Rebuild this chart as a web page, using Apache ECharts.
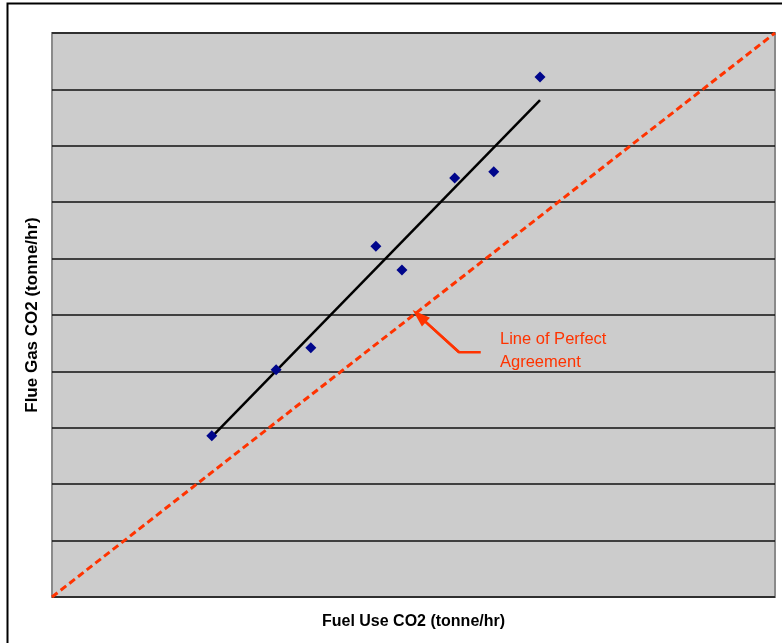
<!DOCTYPE html>
<html>
<head>
<meta charset="utf-8">
<script src="https://cdn.jsdelivr.net/npm/echarts@6/dist/echarts.min.js"></script>
<style>html,body{margin:0;padding:0;background:#fff;}#c{width:782px;height:643px;}</style>
</head>
<body>
<div id="c"></div>
<script>
// Measured points: Fuel Use CO2 vs Flue Gas CO2 (tonne/hr)
const fuelUse = [2.21, 3.10, 3.58, 4.48, 4.84, 5.57, 6.11, 6.75];
const flueGas = [2.86, 4.03, 4.42, 6.22, 5.80, 7.43, 7.54, 9.22];
// Trend line endpoints
const trendX = [2.21, 6.75];
const trendY = [2.84, 8.81];
// Line of perfect agreement
const perfectX = [0, 10];
const perfectY = [0, 10];
// Annotation arrow path (data coords)
const arrowX = [5.93, 5.63, 5.08];
const arrowY = [4.34, 4.34, 4.98];
const annotationText = ['Line of Perfect', 'Agreement'];

const red = '#ff3300';
const chart = echarts.init(document.getElementById('c'));
chart.setOption({
  animation: false,
  backgroundColor: '#ffffff',
  grid: {left: 52, top: 33, width: 723, height: 564, show: true, backgroundColor: '#cccccc', borderColor: '#8a8a8a', borderWidth: 2},
  xAxis: {
    type: 'value', min: 0, max: 10, interval: 1,
    name: 'Fuel Use CO2 (tonne/hr)', nameLocation: 'middle', nameGap: 17,
    nameTextStyle: {fontFamily: 'Liberation Sans', fontWeight: 'bold', fontSize: 16, color: '#000'},
    axisLine: {show: false}, axisTick: {show: false}, axisLabel: {show: false}, splitLine: {show: false}
  },
  yAxis: {
    type: 'value', min: 0, max: 10, interval: 1,
    name: 'Flue Gas CO2 (tonne/hr)', nameLocation: 'middle', nameGap: 11,
    nameTextStyle: {fontFamily: 'Liberation Sans', fontWeight: 'bold', fontSize: 17, color: '#000'},
    axisLine: {show: false}, axisTick: {show: false}, axisLabel: {show: false},
    splitLine: {show: true, lineStyle: {color: '#111', width: 1.5}}
  },
  series: [
    {
      type: 'line', data: perfectX.map((x, i) => [x, perfectY[i]]), symbol: 'none',
      lineStyle: {color: red, width: 3, type: [7, 4]}, z: 3
    },
    {
      type: 'line', data: trendX.map((x, i) => [x, trendY[i]]), symbol: 'none',
      lineStyle: {color: '#000', width: 2.5}, z: 4
    },
    {
      type: 'scatter', data: fuelUse.map((x, i) => [x, flueGas[i]]), symbol: 'diamond', symbolSize: 11,
      itemStyle: {color: '#00068c', opacity: 1}, z: 5
    },
    {
      type: 'line', data: arrowX.map((x, i) => [x, arrowY[i]]), symbol: 'none',
      lineStyle: {color: red, width: 2.5}, z: 6,
      markLine: {
        silent: true, symbol: ['none', 'triangle'], symbolSize: [12, 18],
        label: {show: false},
        lineStyle: {color: red, width: 2.5, type: 'solid'},
        data: [[{coord: [arrowX[1], arrowY[1]]}, {coord: [arrowX[2], arrowY[2]]}]]
      }
    }
  ],
  graphic: [
    {type: 'rect', left: 5, top: 1, shape: {width: 800, height: 700}, style: {fill: 'none', stroke: '#000', lineWidth: 2}, silent: true},
    {type: 'text', left: 500, top: 328, style: {text: annotationText.join('\n'), fill: red, font: '16.5px "Liberation Sans"', lineHeight: 23}}
  ]
});
</script>
</body>
</html>
